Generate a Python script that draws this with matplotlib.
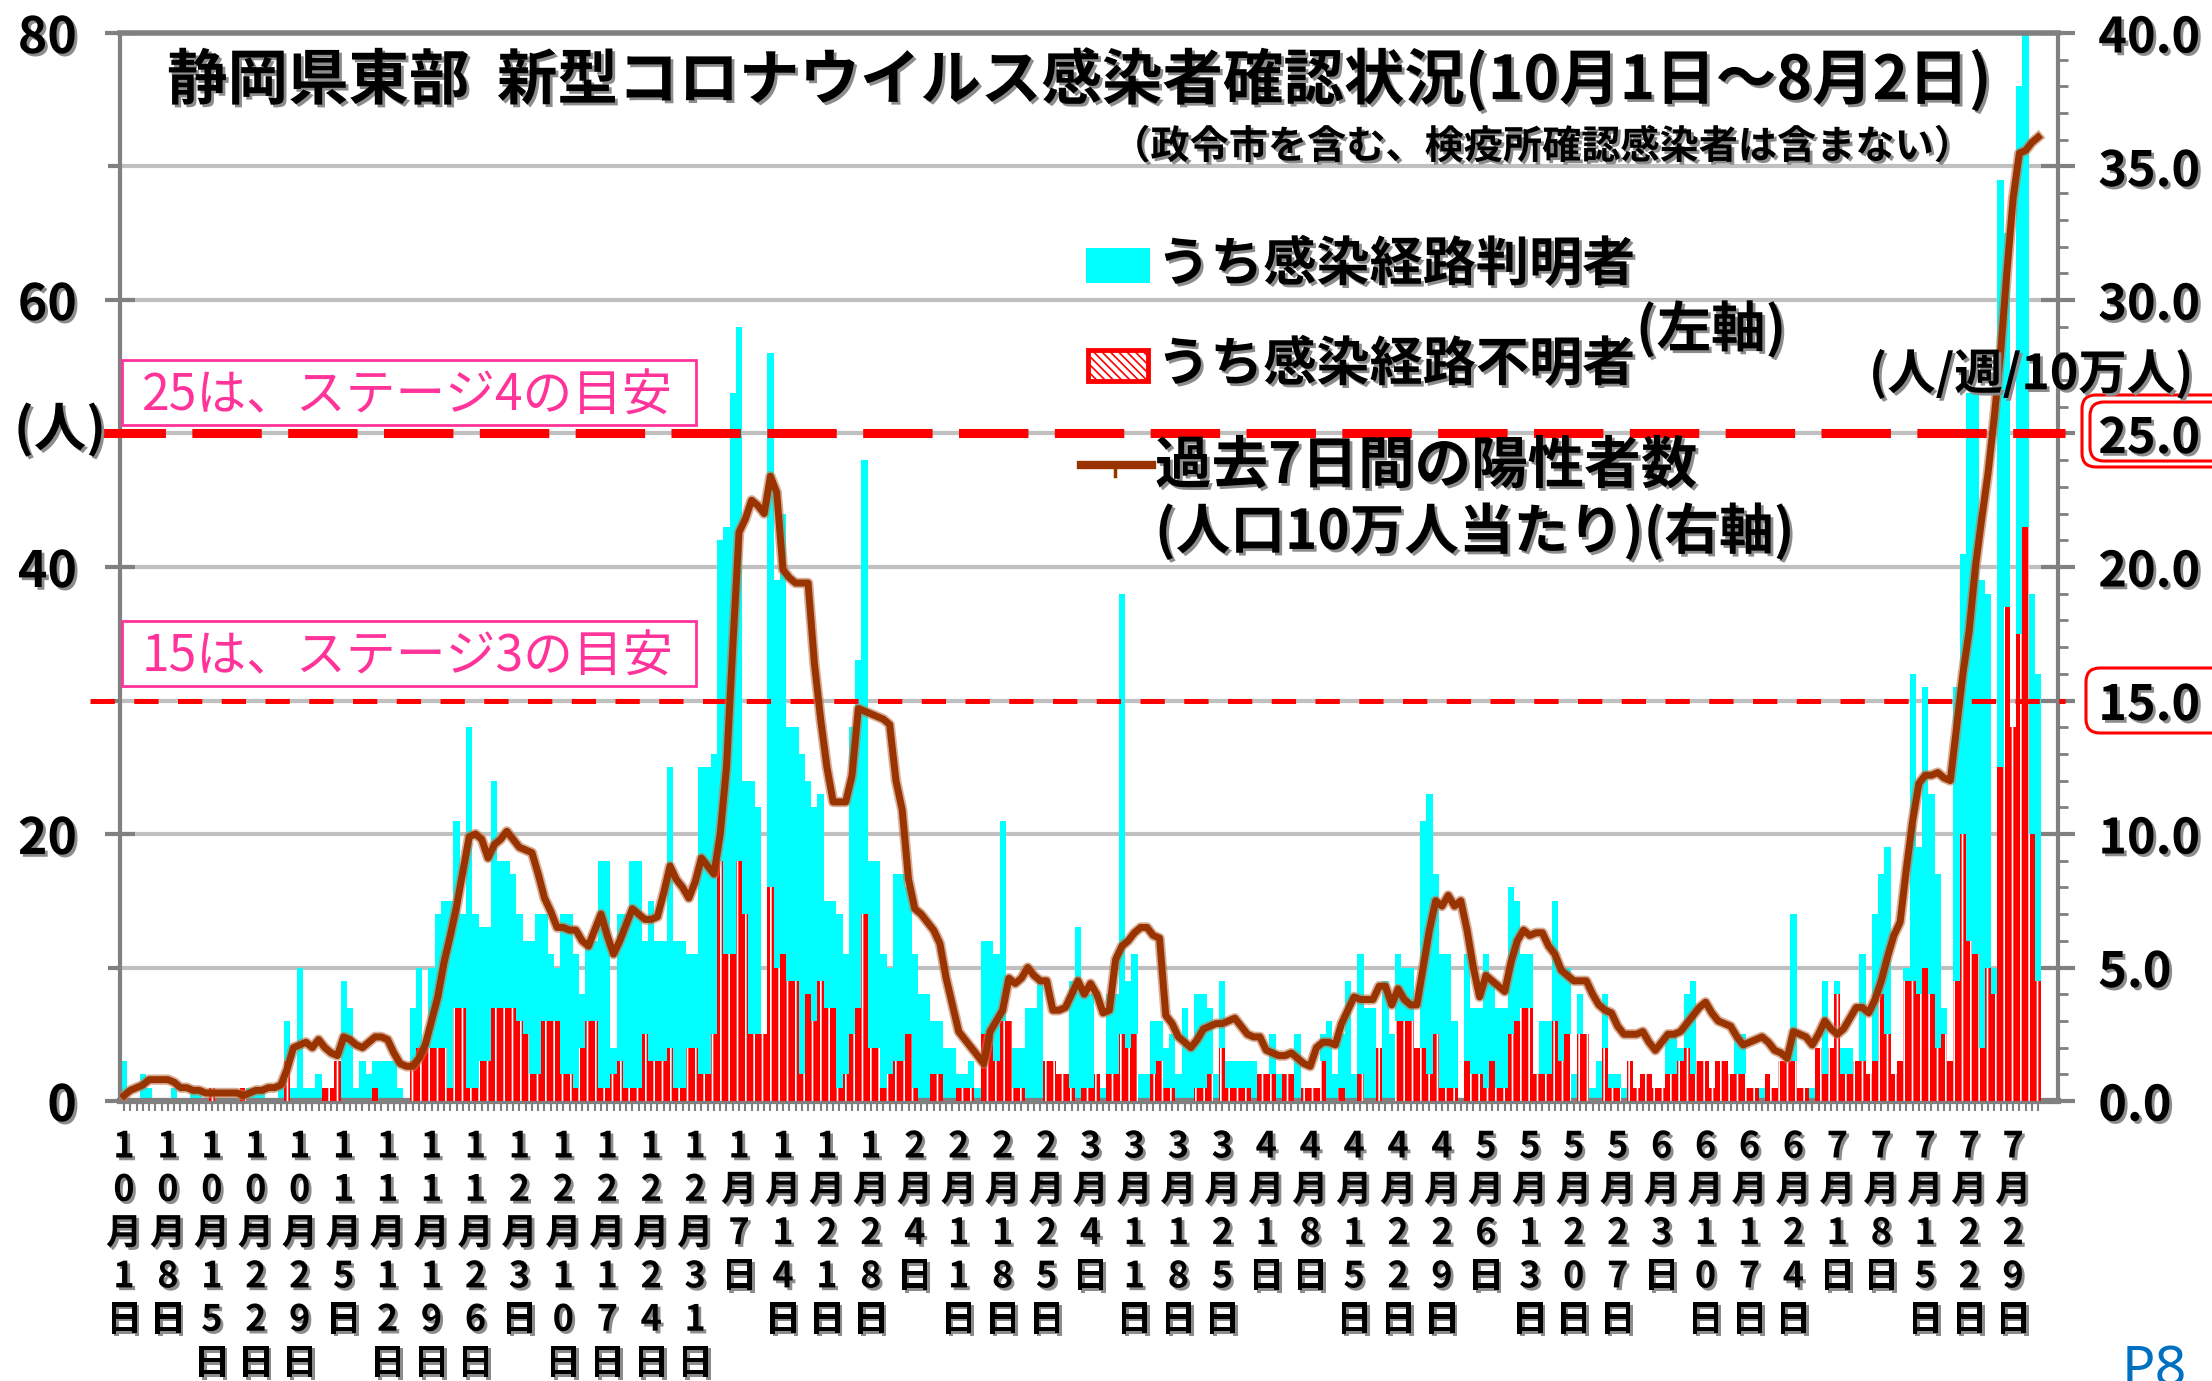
"""
Shizuoka east: daily confirmed COVID-19 cases (known / unknown route)
with the 7-day count per 100k people on the right axis.
"""

import numpy as np
import matplotlib
matplotlib.use("Agg")
import matplotlib.pyplot as plt
import matplotlib.patheffects as pe
import matplotlib.transforms as mtransforms
from matplotlib.patches import Rectangle, FancyBboxPatch
from matplotlib.lines import Line2D

plt.rcParams['font.family'] = ['Noto Sans CJK JP', 'DejaVu Sans']
plt.rcParams['hatch.linewidth'] = 1.2
plt.rcParams['lines.scale_dashes'] = False

# ─────────────────────────────────────────────
# Data (one value per day, Oct 1 -> Aug 2)
# ─────────────────────────────────────────────
known_route = [
    3, 0, 0, 2, 1, 0, 0,
    0, 1, 0, 0, 1, 1, 0,
    0, 0, 0, 0, 0, 0, 1,
    1, 1, 0, 0, 1, 6, 1,
    10, 1, 1, 2, 1, 0, 3,
    9, 7, 1, 3, 2, 3, 3,
    3, 3, 1, 0, 7, 10, 3,
    10, 14, 15, 15, 21, 14, 28,
    14, 13, 13, 24, 18, 18, 17,
    14, 12, 12, 14, 14, 11, 10,
    14, 14, 11, 8, 12, 12, 18,
    18, 4, 14, 14, 18, 18, 12,
    15, 12, 12, 25, 12, 12, 11,
    11, 25, 25, 26, 42, 43, 53,
    58, 24, 24, 22, 5, 56, 39,
    44, 28, 28, 26, 24, 22, 23,
    15, 15, 14, 11, 28, 33, 48,
    18, 18, 11, 10, 17, 17, 16,
    11, 8, 8, 6, 6, 4, 4,
    2, 2, 3, 1, 12, 12, 11,
    21, 4, 4, 4, 7, 7, 9,
    3, 3, 2, 2, 9, 13, 8,
    8, 2, 1, 8, 8, 38, 9,
    11, 2, 2, 6, 6, 4, 5,
    2, 7, 4, 8, 8, 7, 2,
    9, 3, 3, 3, 3, 3, 2,
    2, 5, 2, 2, 2, 5, 1,
    1, 1, 5, 6, 2, 5, 9,
    2, 11, 7, 7, 4, 9, 5,
    11, 10, 10, 1, 21, 23, 17,
    11, 11, 6, 0, 11, 7, 7,
    11, 9, 7, 7, 16, 15, 11,
    11, 2, 6, 6, 15, 10, 10,
    2, 8, 5, 1, 3, 8, 2,
    2, 1, 3, 1, 2, 2, 1,
    1, 5, 5, 4, 8, 9, 3,
    3, 1, 3, 3, 2, 5, 5,
    1, 1, 1, 0, 1, 2, 2,
    14, 1, 1, 1, 3, 9, 3,
    9, 4, 4, 3, 11, 2, 14,
    17, 19, 2, 3, 10, 32, 19,
    31, 23, 17, 7, 3, 31, 41,
    53, 53, 39, 38, 10, 69, 65,
    28, 76, 80, 38, 32,
]

unknown_route = [
    0, 0, 0, 0, 0, 0, 0,
    0, 0, 0, 0, 0, 0, 0,
    1, 0, 0, 0, 0, 1, 0,
    0, 0, 0, 0, 0, 3, 0,
    0, 0, 0, 0, 1, 1, 3,
    0, 0, 0, 0, 0, 1, 0,
    0, 0, 0, 0, 3, 4, 4,
    4, 4, 4, 1, 7, 7, 1,
    1, 3, 3, 7, 7, 7, 7,
    6, 5, 2, 2, 6, 6, 6,
    2, 2, 1, 4, 6, 6, 1,
    1, 2, 3, 1, 1, 1, 5,
    3, 3, 3, 4, 1, 1, 4,
    4, 2, 2, 5, 18, 11, 11,
    18, 14, 5, 5, 5, 16, 10,
    11, 9, 9, 2, 8, 6, 9,
    7, 7, 1, 2, 5, 7, 14,
    4, 4, 1, 2, 3, 3, 5,
    1, 0, 0, 2, 2, 0, 0,
    1, 1, 1, 0, 5, 5, 3,
    6, 6, 1, 1, 0, 0, 0,
    3, 3, 2, 2, 1, 0, 1,
    1, 2, 0, 2, 2, 5, 4,
    5, 0, 0, 2, 3, 1, 1,
    0, 0, 0, 1, 1, 2, 0,
    4, 1, 1, 1, 1, 0, 2,
    2, 2, 0, 2, 2, 0, 1,
    1, 1, 3, 0, 0, 1, 0,
    0, 2, 0, 0, 4, 0, 0,
    6, 6, 6, 4, 4, 2, 5,
    1, 1, 1, 0, 3, 2, 2,
    1, 3, 1, 1, 5, 6, 7,
    7, 2, 2, 2, 6, 3, 5,
    0, 5, 5, 0, 0, 4, 1,
    1, 0, 3, 1, 2, 2, 1,
    1, 2, 2, 3, 4, 2, 3,
    3, 1, 3, 3, 2, 2, 2,
    1, 1, 0, 2, 1, 3, 3,
    3, 1, 1, 0, 4, 2, 4,
    8, 2, 2, 3, 3, 2, 3,
    8, 5, 2, 3, 9, 9, 8,
    10, 8, 4, 5, 3, 9, 20,
    12, 11, 4, 10, 8, 25, 37,
    28, 35, 43, 20, 9,
]

# past 7 days per 100k people (right axis)
weekly_per_100k = [
    0.2, 0.4, 0.5, 0.6, 0.8, 0.8, 0.8,
    0.8, 0.7, 0.5, 0.5, 0.4, 0.4, 0.3,
    0.3, 0.3, 0.3, 0.3, 0.3, 0.2, 0.3,
    0.4, 0.4, 0.5, 0.5, 0.6, 1.2, 2.0,
    2.1, 2.2, 2.0, 2.3, 2.0, 1.8, 1.7,
    2.4, 2.3, 2.1, 2.0, 2.2, 2.4, 2.4,
    2.3, 1.8, 1.4, 1.3, 1.3, 1.6, 2.1,
    3.0, 3.9, 5.2, 6.2, 7.3, 8.6, 9.9,
    10.0, 9.8, 9.1, 9.6, 9.8, 10.1, 9.8,
    9.5, 9.4, 9.3, 8.5, 7.6, 7.1, 6.5,
    6.5, 6.4, 6.4, 6.0, 5.8, 6.4, 7.0,
    6.2, 5.5, 6.0, 6.6, 7.2, 7.0, 6.8,
    6.8, 6.9, 7.8, 8.8, 8.3, 8.0, 7.6,
    8.2, 9.1, 8.8, 8.5, 10.0, 12.5, 17.0,
    21.3, 21.8, 22.5, 22.3, 22.0, 23.4, 22.8,
    19.9, 19.6, 19.4, 19.4, 19.4, 16.4, 14.3,
    12.5, 11.2, 11.2, 11.2, 12.2, 14.7, 14.6,
    14.5, 14.4, 14.3, 14.1, 12.0, 10.9, 8.3,
    7.2, 7.0, 6.7, 6.4, 5.9, 4.6, 3.6,
    2.6, 2.3, 2.0, 1.7, 1.4, 2.6, 3.0,
    3.4, 4.6, 4.4, 4.6, 5.0, 4.7, 4.5,
    4.5, 3.4, 3.4, 3.5, 4.0, 4.5, 4.0,
    4.4, 4.0, 3.3, 3.4, 5.3, 5.8, 6.0,
    6.3, 6.5, 6.5, 6.2, 6.1, 3.2, 2.9,
    2.4, 2.2, 2.0, 2.3, 2.7, 2.8, 2.9,
    2.9, 3.0, 3.1, 2.8, 2.5, 2.4, 2.4,
    1.9, 1.8, 1.7, 1.7, 1.8, 1.6, 1.4,
    1.3, 2.0, 2.2, 2.2, 2.1, 2.9, 3.4,
    3.9, 3.8, 3.8, 3.8, 4.3, 4.3, 3.6,
    4.2, 3.8, 3.6, 3.6, 5.0, 6.4, 7.5,
    7.3, 7.7, 7.3, 7.5, 6.4, 5.0, 3.9,
    4.7, 4.5, 4.3, 4.1, 5.2, 6.0, 6.4,
    6.2, 6.3, 6.3, 5.8, 5.5, 4.9, 4.7,
    4.5, 4.5, 4.5, 4.0, 3.6, 3.4, 3.3,
    2.8, 2.5, 2.5, 2.5, 2.6, 2.2, 1.9,
    2.2, 2.5, 2.5, 2.6, 2.9, 3.2, 3.5,
    3.7, 3.3, 3.0, 2.9, 2.8, 2.4, 2.1,
    2.2, 2.3, 2.4, 2.2, 1.9, 1.8, 1.6,
    2.6, 2.5, 2.4, 2.1, 2.5, 3.0, 2.7,
    2.5, 2.7, 3.1, 3.5, 3.5, 3.3, 3.8,
    4.5, 5.4, 6.2, 6.7, 8.7, 10.5, 11.9,
    12.2, 12.2, 12.3, 12.1, 12.0, 14.0, 16.0,
    17.6, 20.0, 21.8, 23.5, 25.6, 28.0, 31.0,
    33.8, 35.5, 35.6, 35.9, 36.1,
]

tick_dates = [
    '10月1日', '10月8日', '10月15日', '10月22日', '10月29日',
    '11月5日', '11月12日', '11月19日', '11月26日',
    '12月3日', '12月10日', '12月17日', '12月24日', '12月31日',
    '1月7日', '1月14日', '1月21日', '1月28日',
    '2月4日', '2月11日', '2月18日', '2月25日',
    '3月4日', '3月11日', '3月18日', '3月25日',
    '4月1日', '4月8日', '4月15日', '4月22日', '4月29日',
    '5月6日', '5月13日', '5月20日', '5月27日',
    '6月3日', '6月10日', '6月17日', '6月24日',
    '7月1日', '7月8日', '7月15日', '7月22日', '7月29日',
]
tick_every = 7

left_ticks = [0, 20, 40, 60, 80]
right_ticks = [0, 5, 10, 15, 20, 25, 30, 35, 40]
stage_levels = [25, 15]
stage_notes = ['25は、ステージ4の目安', '15は、ステージ3の目安']

assert len(known_route) == len(unknown_route) == len(weekly_per_100k)
days = np.arange(len(known_route))

# ─────────────────────────────────────────────
# Figure / axes (positions in pixels of a 2212x1381 canvas)
# ─────────────────────────────────────────────
W, H = 2212, 1381
fig = plt.figure(figsize=(W / 100, H / 100), dpi=100, facecolor='white')
L, R, T, B = 120, 2058, 33, 1101
ax = fig.add_axes([L / W, 1 - B / H, (R - L) / W, (B - T) / H])
ax2 = ax.twinx()

GRAY = '#808080'
PINK = '#FF3399'
BROWN = '#993300'
shadow = [pe.withSimplePatchShadow(offset=(2, -2), shadow_rgbFace='#8c8c8c', alpha=1.0)]

x_per_day = 6.276
x_day0 = 124
ax.set_xlim((L - x_day0) / x_per_day, (R - x_day0) / x_per_day)
ax.set_ylim(0, 80)
ax2.set_ylim(0, 40)

# light horizontal grid every 10 (left axis)
for v in range(10, 80, 10):
    ax.axhline(v, color='#c0c0c0', lw=3, zorder=0)

ax.bar(days, known_route, width=1.0, color='#00FFFF', lw=0, zorder=2)
ax.bar(days, unknown_route, width=1.0, color='#FF0000', edgecolor='white',
       hatch='||', lw=0, zorder=3)

# stage guide lines (right axis), they poke out left of the plot
x_left_25 = (96 - x_day0) / x_per_day
x_left_15 = (90 - x_day0) / x_per_day
x_right = (2065 - x_day0) / x_per_day
ax2.plot([x_left_25, x_right], [stage_levels[0]] * 2, color='red', lw=6.5,
         dashes=(50, 19), clip_on=False, zorder=4)
ax2.plot([x_left_15, x_right], [stage_levels[1]] * 2, color='red', lw=3.6,
         dashes=(17.5, 14), clip_on=False, zorder=4)

ax2.plot(days, weekly_per_100k, color=BROWN, lw=5, zorder=5,
         solid_joinstyle='round',
         path_effects=[pe.Stroke(linewidth=7.5, foreground='#c07a55', alpha=0.6),
                       pe.Normal()])

# spines
for sp in ['left', 'top', 'bottom']:
    ax.spines[sp].set_color(GRAY)
ax.spines['left'].set_linewidth(3)
ax.spines['top'].set_linewidth(4)
ax.spines['bottom'].set_linewidth(4.5)
ax.spines['right'].set_visible(False)
for sp in ['left', 'top', 'bottom']:
    ax2.spines[sp].set_visible(False)
ax2.spines['right'].set_color(GRAY)
ax2.spines['right'].set_linewidth(3)

# y ticks
ax.set_yticks(left_ticks, labels=[str(v) for v in left_ticks],
              fontsize=36, fontweight='bold')
ax.set_yticks(range(10, 80, 20), minor=True)
ax.tick_params(axis='y', which='major', direction='inout', length=22, width=3,
               color=GRAY, pad=20)
ax.tick_params(axis='y', which='minor', direction='out', length=9, width=3,
               color=GRAY)
ax2.set_yticks(right_ticks, labels=[f'{v:.1f}' for v in right_ticks],
               fontsize=35, fontweight='bold')
ax2.set_yticks(np.arange(0, 41, 1), minor=True)
ax2.tick_params(axis='y', which='major', direction='inout', length=24, width=3,
                color=GRAY, pad=17)
ax2.tick_params(axis='y', which='minor', direction='out', length=7, width=2,
                color=GRAY)
for lbl in ax.get_yticklabels() + ax2.get_yticklabels():
    lbl.set_path_effects(shadow)

# one small tick per day under the axis, labels drawn by hand
ax.set_xticks(days)
ax.tick_params(axis='x', which='major', direction='out', length=7, width=1.5,
               color=GRAY, labelbottom=False)

# vertical (stacked character) date labels
trans = mtransforms.blended_transform_factory(ax.transData, fig.transFigure)
for i, lab in enumerate(tick_dates):
    for k, ch in enumerate(lab):
        t = ax.text(i * tick_every, 1 - (1147 + 43.3 * k) / H, ch,
                    transform=trans, ha='center', va='center', fontsize=26,
                    fontweight='bold', clip_on=False)
        t.set_path_effects(shadow)

# ─────────────────────────────────────────────
# Texts, legend, boxes
# ─────────────────────────────────────────────
renderer = fig.canvas.get_renderer()


def put(x, y, s, width=None, size=30, ha='left', color='black',
        weight='bold', shade=True):
    t = fig.text(x / W, 1 - y / H, s, fontsize=size, ha=ha, va='center',
                 color=color, fontweight=weight)
    if shade:
        t.set_path_effects(shadow)
    if width:
        w = t.get_window_extent(renderer).width
        t.set_fontsize(size * width / w)
    return t


put(167, 80, '静岡県東部  新型コロナウイルス感染者確認状況(10月1日～8月2日)',
    width=1823, size=40)
put(1972, 147, '（政令市を含む、検疫所確認感染者は含まない）',
    width=862, size=26, ha='right')

put(1157, 265, 'うち感染経路判明者', width=478, size=38)
put(1157, 365, 'うち感染経路不明者', width=478, size=38)
put(1636, 330, '(左軸)', width=150, size=30)
put(1155, 466, '過去7日間の陽性者数', width=542, size=38)
put(1155, 532, '(人口10万人当たり)(右軸)', width=640, size=34)
put(1869, 374, '(人/週/10万人)', width=324, size=30)
put(14, 430, '(人)', width=92, size=34)

fig.add_artist(Rectangle((1086 / W, 1 - 283 / H), 64 / W, 35 / H,
                         transform=fig.transFigure, color='#00FFFF', lw=0))
fig.add_artist(Rectangle((1088 / W, 1 - 381 / H), 60 / W, 31 / H,
                         transform=fig.transFigure, facecolor='white',
                         edgecolor='red', hatch='\\\\\\\\', lw=3.5))
fig.add_artist(Line2D([1081 / W, 1152 / W], [1 - 465 / H] * 2,
                      transform=fig.transFigure, color=BROWN, lw=6))
fig.add_artist(Line2D([1115 / W, 1115 / W], [1 - 465 / H, 1 - 476 / H],
                      transform=fig.transFigure, color=BROWN, lw=2.5))

# pink stage notes
for (y0, y1), note in zip([(360, 425), (621, 686)], stage_notes):
    fig.add_artist(Rectangle((122 / W, 1 - y1 / H), (696 - 122) / W,
                             (y1 - y0) / H, transform=fig.transFigure,
                             fill=False, ec=PINK, lw=2))
    put(142, (y0 + y1) / 2 + 4, note, width=532, size=32, color=PINK,
        weight='normal', shade=False)

# red rounded frames around 25.0 and 15.0
pix = mtransforms.IdentityTransform()
for (x0, y0, x1, y1) in [(2082, 395, 2240, 467), (2090, 402, 2240, 461),
                         (2086, 668, 2240, 733)]:
    fig.add_artist(FancyBboxPatch((x0, H - y1), x1 - x0, y1 - y0,
                                  boxstyle='round,pad=0,rounding_size=14',
                                  transform=pix, fill=False, ec='red', lw=2.2))

fig.text(2122 / W, 1 - 1343 / H, 'P8', color='#0070C0', fontsize=40,
         va='top', ha='left', family=['Noto Sans', 'DejaVu Sans'])

fig.savefig('out.png', dpi=100, facecolor='white')
